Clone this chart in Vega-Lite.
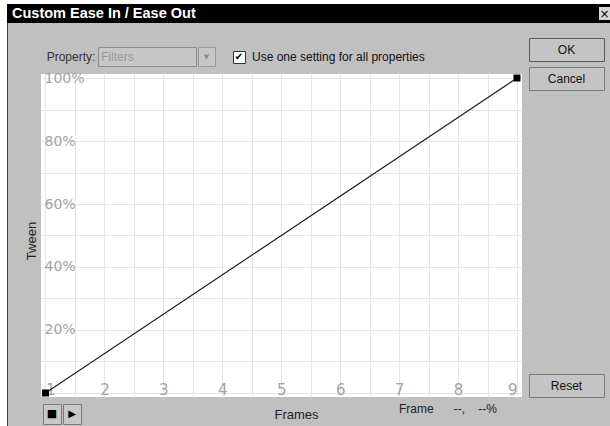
{
  "$schema": "https://vega.github.io/schema/vega-lite/v6.json",
  "background": "#c0c0c0",
  "padding": 0,
  "spacing": 0,
  "config": {
    "view": {"stroke": null},
    "font": "Liberation Sans",
    "title": {"anchor": "start", "baseline": "top", "fontSize": 12, "fontWeight": "normal", "font": "Liberation Sans", "color": "#111111"},
    "text": {"font": "Liberation Sans", "fontSize": 12, "color": "#111111"}
  },
  "vconcat": [
    {"width": 610, "height": 4, "data": {"values": []}, "mark": "text", "view": {"fill": "#ffffff"}},
    {
      "spacing": 0,
      "hconcat": [
        {"width": 7, "height": 19, "data": {"values": []}, "mark": "text", "view": {"fill": "#ffffff"}},
        {"width": 1, "height": 19, "data": {"values": []}, "mark": "text", "view": {"fill": "#000000"}},
        {"width": 591, "height": 19, "data": {"values": []}, "mark": "text", "view": {"fill": "#000000"},
         "title": {"text": "Custom Ease In / Ease Out", "offset": -17.5, "dx": 4, "color": "#ffffff", "fontSize": 14.5, "fontWeight": "bold"}},
        {
          "spacing": 0,
          "vconcat": [
            {"width": 11, "height": 3, "data": {"values": []}, "mark": "text", "view": {"fill": "#000000"}},
            {"width": 11, "height": 13, "data": {"values": [{"t": "×"}]}, "mark": {"type": "text", "font": "DejaVu Sans", "fontSize": 12, "color": "#000000"}, "encoding": {"text": {"field": "t", "type": "nominal"}}, "view": {"fill": "#d6d6d6"}},
            {"width": 11, "height": 3, "data": {"values": []}, "mark": "text", "view": {"fill": "#000000"}}
          ]
        }
      ]
    },
    {
      "spacing": 0,
      "hconcat": [
        {"width": 7, "height": 403, "data": {"values": []}, "mark": "text", "view": {"fill": "#ffffff"}},
        {"width": 1, "height": 403, "data": {"values": []}, "mark": "text", "view": {"fill": "#404040"}},
        {
          "spacing": 0,
          "vconcat": [
            {
              "spacing": 0,
              "vconcat": [
                {"width": 10, "height": 23, "data": {"values": []}, "mark": "text"},
                {
                  "spacing": 0,
                  "hconcat": [
                    {"width": 37, "height": 19, "data": {"values": []}, "mark": "text"},
                    {"width": 52, "height": 19, "data": {"values": [{"t": "Property:"}]}, "mark": {"type": "text", "color": "#333333"}, "encoding": {"text": {"field": "t", "type": "nominal"}}},
                    {"width": 98, "height": 19, "data": {"values": []}, "mark": "text", "view": {"fill": "#c6c6c6", "stroke": "#8c8c8c"},
                     "title": {"text": "Filters", "offset": -16.5, "dx": 3, "color": "#9a9a9a"}},
                    {"width": 17, "height": 19, "data": {"values": [{"t": "▼"}]}, "mark": {"type": "text", "font": "DejaVu Sans", "fontSize": 7, "color": "#8c8c8c"}, "encoding": {"text": {"field": "t", "type": "nominal"}}, "view": {"fill": "#c6c6c6", "stroke": "#9a9a9a"}},
                    {"width": 16, "height": 19, "data": {"values": []}, "mark": "text"},
                    {
                      "spacing": 0,
                      "vconcat": [
                        {"width": 12, "height": 3, "data": {"values": []}, "mark": "text"},
                        {"width": 12, "height": 12, "data": {"values": [{"t": "✔"}]}, "mark": {"type": "text", "font": "DejaVu Sans", "fontSize": 10, "color": "#000000"}, "encoding": {"text": {"field": "t", "type": "nominal"}}, "view": {"fill": "#ffffff", "stroke": "#333333"}}
                      ]
                    },
                    {"width": 6, "height": 19, "data": {"values": []}, "mark": "text"},
                    {"width": 180, "height": 19, "data": {"values": []}, "mark": "text",
                     "title": {"text": "Use one setting for all properties", "offset": -16.5, "color": "#111111"}}
                  ]
                },
                {"width": 10, "height": 4, "data": {"values": []}, "mark": "text"}
              ]
            },
            {
              "spacing": 0,
              "hconcat": [
                {"width": 14, "height": 326, "data": {"values": []}, "mark": "text"},
                {
                  "spacing": 0,
                  "vconcat": [
                    {"width": 19, "height": 8, "data": {"values": []}, "mark": "text"},
                    {"width": 19, "height": 318, "data": {"values": [{"t": "Tween"}]}, "mark": {"type": "text", "angle": 270, "fontSize": 13, "color": "#222222"}, "encoding": {"text": {"field": "t", "type": "nominal"}}}
                  ]
                },
                {
                  "width": 481,
                  "height": 323,
                  "view": {"fill": "#ffffff", "stroke": null},
                  "data": {"values": [{"frame": 1, "tween": 0}, {"frame": 9, "tween": 100}]},
                  "encoding": {
                    "x": {
                      "field": "frame", "type": "quantitative",
                      "scale": {"domain": [0.924, 9.085], "nice": false, "zero": false},
                      "axis": {
                        "title": null,
                        "values": [1, 1.5, 2, 2.5, 3, 3.5, 4, 4.5, 5, 5.5, 6, 6.5, 7, 7.5, 8, 8.5, 9],
                        "labelExpr": "datum.value % 1 === 0 ? '' + datum.value : ''",
                        "grid": true, "gridColor": "#e6e6e6", "gridWidth": 1,
                        "domain": false, "ticks": false, "tickSize": 0, "minExtent": 0,
                        "labelPadding": -3, "labelBaseline": "alphabetic", "labelFlush": 10, "labelOverlap": false,
                        "labelFont": "DejaVu Sans", "labelFontSize": 15, "labelColor": "#a3a3a3"
                      }
                    },
                    "y": {
                      "field": "tween", "type": "quantitative",
                      "scale": {"domain": [-1.27, 101.27], "nice": false, "zero": false},
                      "axis": {
                        "title": null,
                        "values": [0, 10, 20, 30, 40, 50, 60, 70, 80, 90, 100],
                        "labelExpr": "datum.value > 0 && datum.value % 20 === 0 ? datum.value + '%' : ''",
                        "grid": true, "gridColor": "#e6e6e6", "gridWidth": 1,
                        "domain": false, "ticks": false, "tickSize": 0, "minExtent": 0,
                        "labelPadding": -3, "labelAlign": "left", "labelBaseline": "middle", "labelFlush": false, "labelOverlap": false,
                        "labelFont": "DejaVu Sans", "labelFontSize": 14, "labelColor": "#a3a3a3"
                      }
                    }
                  },
                  "layer": [
                    {"mark": {"type": "line", "color": "#222222", "strokeWidth": 1.2}},
                    {"mark": {"type": "square", "color": "#000000", "size": 49, "opacity": 1, "filled": true}}
                  ]
                }
              ]
            },
            {
              "spacing": 0,
              "hconcat": [
                {"width": 34, "height": 30, "data": {"values": []}, "mark": "text"},
                {
                  "spacing": 0,
                  "vconcat": [
                    {"width": 38, "height": 3, "data": {"values": []}, "mark": "text"},
                    {
                      "spacing": 0,
                      "hconcat": [
                        {"width": 18, "height": 20, "data": {"values": [{"t": "■"}]}, "mark": {"type": "text", "font": "DejaVu Sans", "fontSize": 11, "color": "#000000"}, "encoding": {"text": {"field": "t", "type": "nominal"}}, "view": {"fill": "#c8c8c8", "stroke": "#7a7a7a"}},
                        {"width": 18, "height": 20, "data": {"values": [{"t": "▶"}]}, "mark": {"type": "text", "font": "DejaVu Sans", "fontSize": 10, "color": "#000000"}, "encoding": {"text": {"field": "t", "type": "nominal"}}, "view": {"fill": "#c8c8c8", "stroke": "#7a7a7a"}}
                      ]
                    }
                  ]
                },
                {"width": 192, "height": 30, "data": {"values": []}, "mark": "text"},
                {"width": 45, "height": 30, "data": {"values": [{"t": "Frames"}]}, "mark": {"type": "text", "fontSize": 13, "color": "#222222"}, "encoding": {"text": {"field": "t", "type": "nominal"}}},
                {"width": 79, "height": 30, "data": {"values": []}, "mark": "text"},
                {"width": 100, "height": 18, "data": {"values": [{"t": "Frame\u00a0\u00a0\u00a0\u00a0\u00a0\u00a0--,\u00a0\u00a0\u00a0\u00a0--%"}]}, "mark": {"type": "text", "fontSize": 12, "color": "#222222"}, "encoding": {"text": {"field": "t", "type": "nominal"}}}
              ]
            }
          ]
        },
        {
          "spacing": 0,
          "hconcat": [
            {"width": 6, "height": 403, "data": {"values": []}, "mark": "text"},
            {
              "spacing": 0,
              "vconcat": [
                {"width": 75, "height": 14, "data": {"values": []}, "mark": "text"},
                {"width": 75, "height": 23, "data": {"values": [{"t": "OK"}]}, "mark": {"type": "text", "fontSize": 12, "color": "#111111"}, "encoding": {"text": {"field": "t", "type": "nominal"}}, "view": {"fill": "#c4c4c4", "stroke": "#5a5a5a"}},
                {"width": 75, "height": 4, "data": {"values": []}, "mark": "text"},
                {"width": 75, "height": 23, "data": {"values": [{"t": "Cancel"}]}, "mark": {"type": "text", "fontSize": 12, "color": "#111111"}, "encoding": {"text": {"field": "t", "type": "nominal"}}, "view": {"fill": "#c4c4c4", "stroke": "#7a7a7a"}},
                {"width": 75, "height": 282, "data": {"values": []}, "mark": "text"},
                {"width": 75, "height": 23, "data": {"values": [{"t": "Reset"}]}, "mark": {"type": "text", "fontSize": 12, "color": "#111111"}, "encoding": {"text": {"field": "t", "type": "nominal"}}, "view": {"fill": "#c4c4c4", "stroke": "#7a7a7a"}}
              ]
            }
          ]
        }
      ]
    }
  ]
}
